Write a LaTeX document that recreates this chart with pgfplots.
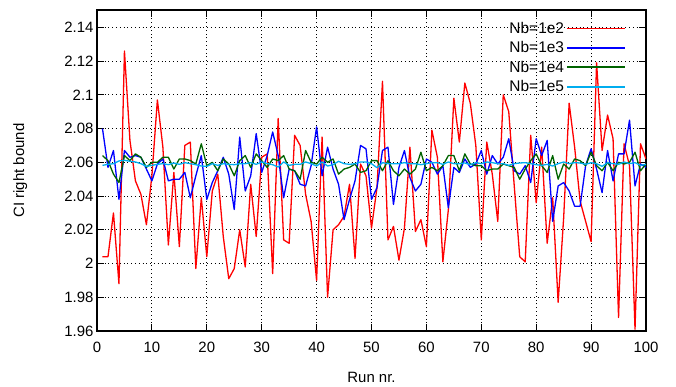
\documentclass[border=0pt]{standalone}
\usepackage{fontspec}
\setmainfont{Liberation Sans}
\usepackage{pgfplots}
\pgfplotsset{compat=1.18}
\definecolor{dkgreen}{RGB}{0,100,0}
\begin{document}
\begin{tikzpicture}
\useasboundingbox (-97bp,-56bp) rectangle (579bp,331bp);
\begin{axis}[
  at={(0,0)}, anchor=south west,
  scale only axis, width=549bp, height=321bp,
  xmin=0, xmax=100, ymin=1.96, ymax=2.1503,
  xtick={0,10,...,100},
  ytick={1.96,1.98,2.00,2.02,2.04,2.06,2.08,2.10,2.12,2.14},
  scaled y ticks=false,
  /pgf/number format/assume math mode=true,
  ticklabel style={font=\fontsize{15}{18}\selectfont},
  xticklabel style={yshift=-8bp},
  label style={font=\fontsize{15}{18}\selectfont},
  tick align=inside, tick pos=both,
  major tick length=7bp,
  every tick/.style={black, line width=1bp},
  axis line style={black, line width=1.3bp},
  grid=major,
  grid style={black, line width=0.8bp, dash pattern=on 1bp off 2.8bp},
  xlabel={Run nr.}, ylabel={CI right bound},
  xlabel style={at={(axis description cs:0.5,-0.146)}, anchor=center},
  ylabel style={at={(axis description cs:-0.140,0.5)}, anchor=center, rotate=0},
  legend style={draw=none, fill=none, at={(1,1)}, anchor=north east,
    xshift=-17bp, yshift=-8bp, font=\fontsize{15.5}{18}\selectfont,
    cells={anchor=east}, row sep=2.7bp},
  legend plot pos=right,
  legend image code/.code={\draw[#1, line width=1.8bp] (0bp,0bp) -- (58bp,0bp);},
]
\addplot[color=red, line width=1.3bp, line join=round] table {
1 2.004
2 2.004
3 2.030
4 1.988
5 2.126
6 2.073
7 2.049
8 2.041
9 2.023
10 2.052
11 2.097
12 2.069
13 2.011
14 2.054
15 2.010
16 2.070
17 2.072
18 1.997
19 2.039
20 2.004
21 2.043
22 2.053
23 2.016
24 1.991
25 1.997
26 2.020
27 1.998
28 2.047
29 2.016
30 2.063
31 2.065
32 1.994
33 2.086
34 2.014
35 2.012
36 2.076
37 2.070
38 2.041
39 2.025
40 1.990
41 2.075
42 1.980
43 2.020
44 2.023
45 2.028
46 2.047
47 2.003
48 2.059
49 2.052
50 2.021
51 2.045
52 2.108
53 2.014
54 2.022
55 2.002
56 2.021
57 2.069
58 2.019
59 2.026
60 2.010
61 2.079
62 2.063
63 2.001
64 2.032
65 2.098
66 2.072
67 2.107
68 2.095
69 2.070
70 2.014
71 2.072
72 2.053
73 2.025
74 2.100
75 2.090
76 2.046
77 2.004
78 2.001
79 2.076
80 2.036
81 2.069
82 2.012
83 2.039
84 1.977
85 2.027
86 2.095
87 2.069
88 2.037
89 2.025
90 2.013
91 2.119
92 2.067
93 2.088
94 2.074
95 1.968
96 2.071
97 2.058
98 1.961
99 2.071
100 2.062
};
\addlegendentry{Nb=1e2}
\addplot[color=blue, line width=1.3bp, line join=round] table {
1 2.080
2 2.057
3 2.067
4 2.038
5 2.067
6 2.063
7 2.064
8 2.063
9 2.056
10 2.049
11 2.059
12 2.062
13 2.049
14 2.050
15 2.050
16 2.054
17 2.039
18 2.052
19 2.064
20 2.038
21 2.048
22 2.055
23 2.063
24 2.053
25 2.032
26 2.075
27 2.043
28 2.052
29 2.077
30 2.054
31 2.064
32 2.078
33 2.064
34 2.039
35 2.056
36 2.055
37 2.047
38 2.046
39 2.058
40 2.081
41 2.052
42 2.069
43 2.056
44 2.047
45 2.026
46 2.038
47 2.049
48 2.070
49 2.068
50 2.038
51 2.045
52 2.067
53 2.069
54 2.035
55 2.057
56 2.067
57 2.051
58 2.043
59 2.047
60 2.062
61 2.060
62 2.053
63 2.058
64 2.033
65 2.057
66 2.054
67 2.062
68 2.057
69 2.059
70 2.067
71 2.053
72 2.064
73 2.059
74 2.063
75 2.074
76 2.055
77 2.053
78 2.058
79 2.048
80 2.074
81 2.064
82 2.073
83 2.025
84 2.046
85 2.048
86 2.043
87 2.034
88 2.034
89 2.058
90 2.068
91 2.056
92 2.042
93 2.067
94 2.049
95 2.065
96 2.065
97 2.085
98 2.046
99 2.059
100 2.057
};
\addlegendentry{Nb=1e3}
\addplot[color=dkgreen, line width=1.3bp, line join=round] table {
1 2.064
2 2.061
3 2.053
4 2.048
5 2.064
6 2.061
7 2.065
8 2.063
9 2.057
10 2.060
11 2.060
12 2.063
13 2.063
14 2.056
15 2.062
16 2.062
17 2.061
18 2.059
19 2.071
20 2.058
21 2.060
22 2.055
23 2.062
24 2.059
25 2.052
26 2.061
27 2.064
28 2.057
29 2.065
30 2.061
31 2.057
32 2.062
33 2.061
34 2.064
35 2.056
36 2.055
37 2.050
38 2.067
39 2.060
40 2.059
41 2.063
42 2.060
43 2.062
44 2.053
45 2.056
46 2.057
47 2.059
48 2.054
49 2.055
50 2.061
51 2.061
52 2.055
53 2.061
54 2.055
55 2.052
56 2.056
57 2.053
58 2.056
59 2.066
60 2.055
61 2.057
62 2.055
63 2.058
64 2.064
65 2.064
66 2.055
67 2.065
68 2.059
69 2.058
70 2.058
71 2.055
72 2.056
73 2.056
74 2.059
75 2.058
76 2.057
77 2.050
78 2.056
79 2.061
80 2.065
81 2.058
82 2.054
83 2.064
84 2.050
85 2.059
86 2.056
87 2.062
88 2.061
89 2.058
90 2.066
91 2.058
92 2.055
93 2.060
94 2.055
95 2.060
96 2.059
97 2.060
98 2.066
99 2.055
100 2.059
};
\addlegendentry{Nb=1e4}
\addplot[color=cyan, line width=1.3bp, line join=round] table {
1 2.0582
2 2.0588
3 2.0592
4 2.0608
5 2.0612
6 2.0606
7 2.0602
8 2.0592
9 2.0576
10 2.0582
11 2.0588
12 2.0592
13 2.0586
14 2.0596
15 2.0588
16 2.0598
17 2.0592
18 2.0586
19 2.0578
20 2.0576
21 2.0592
22 2.0582
23 2.0592
24 2.0588
25 2.0586
26 2.0592
27 2.0592
28 2.0598
29 2.0588
30 2.0602
31 2.0592
32 2.0586
33 2.0572
34 2.0602
35 2.0582
36 2.0588
37 2.0588
38 2.0602
39 2.0592
40 2.0578
41 2.0602
42 2.0578
43 2.0586
44 2.0606
45 2.0592
46 2.0588
47 2.0592
48 2.0602
49 2.0602
50 2.0592
51 2.0568
52 2.0598
53 2.0592
54 2.0592
55 2.0592
56 2.0598
57 2.0592
58 2.0592
59 2.0586
60 2.0592
61 2.0598
62 2.0598
63 2.0588
64 2.0602
65 2.0592
66 2.0592
67 2.0596
68 2.0586
69 2.0598
70 2.0592
71 2.0602
72 2.0598
73 2.0592
74 2.0592
75 2.0582
76 2.0592
77 2.0596
78 2.0598
79 2.0592
80 2.0586
81 2.0582
82 2.0588
83 2.0578
84 2.0592
85 2.0602
86 2.0592
87 2.0598
88 2.0596
89 2.0588
90 2.0598
91 2.0592
92 2.0576
93 2.0598
94 2.0592
95 2.0588
96 2.0602
97 2.0592
98 2.0598
99 2.0582
100 2.0588
};
\addlegendentry{Nb=1e5}
\end{axis}
\end{tikzpicture}
\end{document}
